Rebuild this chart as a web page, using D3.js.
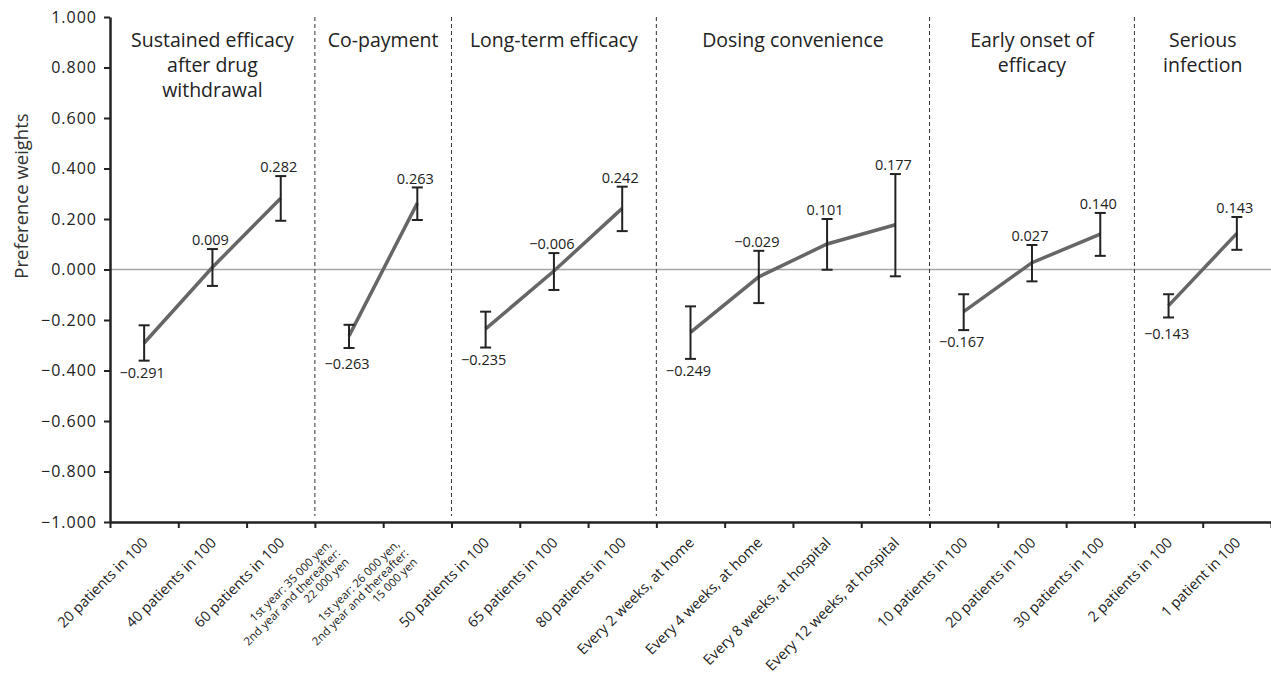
<!DOCTYPE html>
<html>
<head>
<meta charset="utf-8">
<script src="https://cdn.jsdelivr.net/npm/d3@7"></script>
<style>
  html, body { margin: 0; padding: 0; background: #fff; }
  svg { display: block; font-family: "Open Sans", "Noto Sans", sans-serif; }
</style>
</head>
<body>
<svg id="chart" width="1271" height="676"></svg>
<script>
// Attribute groups (panel titles, split into lines) and how many levels each has
const groupTitles = [
  ["Sustained efficacy", "after drug", "withdrawal"],
  ["Co-payment"],
  ["Long-term efficacy"],
  ["Dosing convenience"],
  ["Early onset of", "efficacy"],
  ["Serious", "infection"]
];
const groupSizes = [3, 2, 3, 4, 3, 2];

// Attribute levels (x categories); multi-line labels are split on "\n"
const levelLabels = [
  "20 patients in 100", "40 patients in 100", "60 patients in 100",
  "1st year: 35 000 yen,\n2nd year and thereafter:\n22 000 yen",
  "1st year: 26 000 yen,\n2nd year and thereafter:\n15 000 yen",
  "50 patients in 100", "65 patients in 100", "80 patients in 100",
  "Every 2 weeks, at home", "Every 4 weeks, at home",
  "Every 8 weeks, at hospital", "Every 12 weeks, at hospital",
  "10 patients in 100", "20 patients in 100", "30 patients in 100",
  "2 patients in 100", "1 patient in 100"
];

// Preference weights and their confidence limits
const weights = [-0.291, 0.009, 0.282, -0.263, 0.263, -0.235, -0.006, 0.242,
                 -0.249, -0.029, 0.101, 0.177, -0.167, 0.027, 0.140, -0.143, 0.143];
const ciLow  = [-0.361, -0.065, 0.193, -0.311, 0.196, -0.309, -0.081, 0.152,
                -0.354, -0.133, -0.001, -0.027, -0.240, -0.047, 0.054, -0.190, 0.078];
const ciHigh = [-0.221, 0.081, 0.370, -0.219, 0.325, -0.167, 0.065, 0.328,
                -0.146, 0.074, 0.200, 0.378, -0.098, 0.097, 0.224, -0.098, 0.208];

// Y tick values
const yTicks = [-1, -0.8, -0.6, -0.4, -0.2, 0, 0.2, 0.4, 0.6, 0.8, 1];

const plotLeft = 110, plotRight = 1271, plotTop = 17, plotBottom = 522;
const svg = d3.select("#chart");

const n = levelLabels.length;
const x = d3.scaleBand().domain(d3.range(n)).range([plotLeft, plotRight]).padding(0);
const xEdge = d3.scaleLinear().domain([0, n]).range([plotLeft, plotRight]);
const y = d3.scaleLinear().domain([-1, 1]).range([plotBottom, plotTop]);
const cx = i => x(i) + x.bandwidth() / 2;
const fmt = v => d3.format(".3f")(v).replace("-", "\u2212");

// first level of each attribute
const firstOf = [];
groupSizes.forEach(s => { for (let k = 0; k < s; k++) firstOf.push(k === 0); });
const groupStart = groupSizes.map((s, g) => d3.sum(groupSizes.slice(0, g)));

// zero reference line
svg.append("line")
  .attr("x1", plotLeft).attr("x2", plotRight)
  .attr("y1", y(0)).attr("y2", y(0))
  .attr("stroke", "#a6a6a6").attr("stroke-width", 1.5);

// dashed separators between attribute groups
groupStart.slice(1).forEach(s => {
  svg.append("line")
    .attr("x1", xEdge(s)).attr("x2", xEdge(s))
    .attr("y1", plotTop).attr("y2", plotBottom - 6)
    .attr("stroke", "#333").attr("stroke-width", 1)
    .attr("stroke-dasharray", "4,3");
});

// group titles
groupTitles.forEach((lines, g) => {
  const mid = (xEdge(groupStart[g]) + xEdge(groupStart[g] + groupSizes[g])) / 2;
  const t = svg.append("text")
    .attr("x", mid).attr("y", 47)
    .attr("text-anchor", "middle")
    .attr("font-size", 19.5).attr("fill", "#222");
  lines.forEach((ln, k) => {
    t.append("tspan").attr("x", mid).attr("dy", k === 0 ? 0 : 25).text(ln);
  });
});

// connecting lines within each group
groupSizes.forEach((s, g) => {
  const idx = d3.range(groupStart[g], groupStart[g] + s);
  svg.append("path")
    .datum(idx)
    .attr("fill", "none")
    .attr("stroke", "#666")
    .attr("stroke-width", 3.5)
    .attr("d", d3.line().x(i => cx(i)).y(i => y(weights[i])));
});

// error bars
const eb = svg.append("g").attr("stroke", "#222").attr("stroke-width", 2);
d3.range(n).forEach(i => {
  const xc = cx(i);
  eb.append("line").attr("x1", xc).attr("x2", xc).attr("y1", y(ciLow[i])).attr("y2", y(ciHigh[i]));
  eb.append("line").attr("x1", xc - 5.5).attr("x2", xc + 5.5).attr("y1", y(ciLow[i])).attr("y2", y(ciLow[i]));
  eb.append("line").attr("x1", xc - 5.5).attr("x2", xc + 5.5).attr("y1", y(ciHigh[i])).attr("y2", y(ciHigh[i]));
});

// value labels: lowest level of each attribute below, others above
d3.range(n).forEach(i => {
  const below = firstOf[i];
  const yc = below
    ? Math.max(y(weights[i]) + 28, y(ciLow[i]) + 12)
    : y(ciHigh[i]) - 9;
  svg.append("text")
    .attr("x", cx(i) - 2).attr("y", yc)
    .attr("dy", "0.35em")
    .attr("text-anchor", "middle")
    .attr("font-size", 14.5).attr("fill", "#222")
    .text(fmt(weights[i]));
});

// y axis
const yAxis = svg.append("g")
  .attr("transform", `translate(${plotLeft},0)`)
  .call(d3.axisLeft(y).tickValues(yTicks).tickSize(6).tickSizeOuter(0).tickFormat(fmt));
yAxis.select(".domain").attr("stroke", "#222").attr("stroke-width", 2.5);
yAxis.selectAll(".tick line").attr("stroke", "#222").attr("stroke-width", 2);
yAxis.selectAll(".tick text")
  .attr("font-family", "Open Sans, sans-serif")
  .attr("font-size", 16).attr("letter-spacing", 1)
  .attr("fill", "#222").attr("x", -13);

// x axis with ticks on category boundaries
const xAxis = svg.append("g")
  .attr("transform", `translate(0,${plotBottom})`)
  .call(d3.axisBottom(xEdge).tickValues(d3.range(n + 1)).tickSize(6).tickSizeOuter(0).tickFormat(""));
xAxis.select(".domain").attr("stroke", "#222").attr("stroke-width", 2.5);
xAxis.selectAll(".tick line").attr("stroke", "#222").attr("stroke-width", 2);

// rotated category labels
d3.range(n).forEach(i => {
  const lines = levelLabels[i].split("\n");
  const multi = lines.length > 1;
  const fs = multi ? 11.5 : 14.5;
  const lh = multi ? 12.5 : 0;
  const ax = multi ? cx(i) - 11 : cx(i) + 1;
  const ay = multi ? plotBottom + 29 : plotBottom + 18;
  const t = svg.append("text")
    .attr("transform", `translate(${ax},${ay}) rotate(-45)`)
    .attr("text-anchor", "end")
    .attr("font-size", fs).attr("fill", "#222");
  lines.forEach((ln, k) => {
    t.append("tspan").attr("x", 0)
      .attr("y", (k - (lines.length - 1) / 2) * lh)
      .attr("dy", "0.35em")
      .text(ln);
  });
});

// y axis title
svg.append("text")
  .attr("transform", `translate(22,196) rotate(-90)`)
  .attr("text-anchor", "middle")
  .attr("dy", "0.35em")
  .attr("font-size", 18.5).attr("fill", "#333")
  .text("Preference weights");
</script>
</body>
</html>
